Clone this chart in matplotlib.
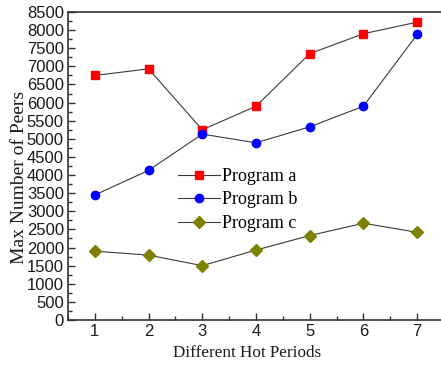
import matplotlib
matplotlib.use('Agg')
import matplotlib.pyplot as plt
from matplotlib.ticker import MultipleLocator

# values
periods = [1, 2, 3, 4, 5, 6, 7]
program_a = [6750, 6930, 5250, 5900, 7350, 7900, 8220]
program_b = [3450, 4130, 5130, 4890, 5330, 5900, 7880]
program_c = [1900, 1790, 1500, 1930, 2330, 2670, 2420]

fig = plt.figure(figsize=(4.41, 3.69), dpi=100)
ax = fig.add_axes([68/441, 49/369, 376/441, 308/369])

line_col = '#3a3a3a'
ax.plot(periods, program_a, '-', color=line_col, lw=0.8, marker='s', ms=5.5,
        mfc='#ff0000', mec='#ff0000', label='Program a')
ax.plot(periods, program_b, '-', color=line_col, lw=0.8, marker='o', ms=6,
        mfc='#0000ff', mec='#0000ff', label='Program b')
ax.plot(periods, program_c, '-', color=line_col, lw=0.8, marker='D', ms=6,
        mfc='#808000', mec='#808000', label='Program c')

ax.set_xlim(0.5, 7.5)
ax.set_ylim(0, 8500)
ax.xaxis.set_major_locator(MultipleLocator(1))
ax.xaxis.set_minor_locator(MultipleLocator(0.5))
ax.yaxis.set_major_locator(MultipleLocator(500))
ax.yaxis.set_minor_locator(MultipleLocator(250))
ax.tick_params(which='both', direction='in', top=False, right=False,
               width=1, color='#333333')
ax.tick_params(which='major', length=5, labelsize=12, labelcolor='#1a1a1a', pad=3)
ax.tick_params(which='minor', length=3)
for lab in ax.get_xticklabels() + ax.get_yticklabels():
    lab.set_family('Liberation Sans')
for s in ax.spines.values():
    s.set_linewidth(1.2)
    s.set_color('#333333')
ax.spines['right'].set_visible(False)

ax.set_xlabel('Different Hot Periods', family='Liberation Serif', fontsize=12.3,
              va='center', color='#1a1a1a')
ax.xaxis.set_label_coords(0.477, -0.107)
ax.set_ylabel('Max Number of Peers', family='Liberation Serif', fontsize=14,
              va='center', color='#1a1a1a')
ax.yaxis.set_label_coords(-0.13, 0.464)

leg = ax.legend(loc='upper left', bbox_to_anchor=(0.26, 0.535), frameon=False,
                prop={'family': 'Liberation Serif', 'size': 13},
                handlelength=2.3, handletextpad=0.1, labelspacing=0.36,
                borderpad=0.2)

plt.savefig('out.png', dpi=100)
